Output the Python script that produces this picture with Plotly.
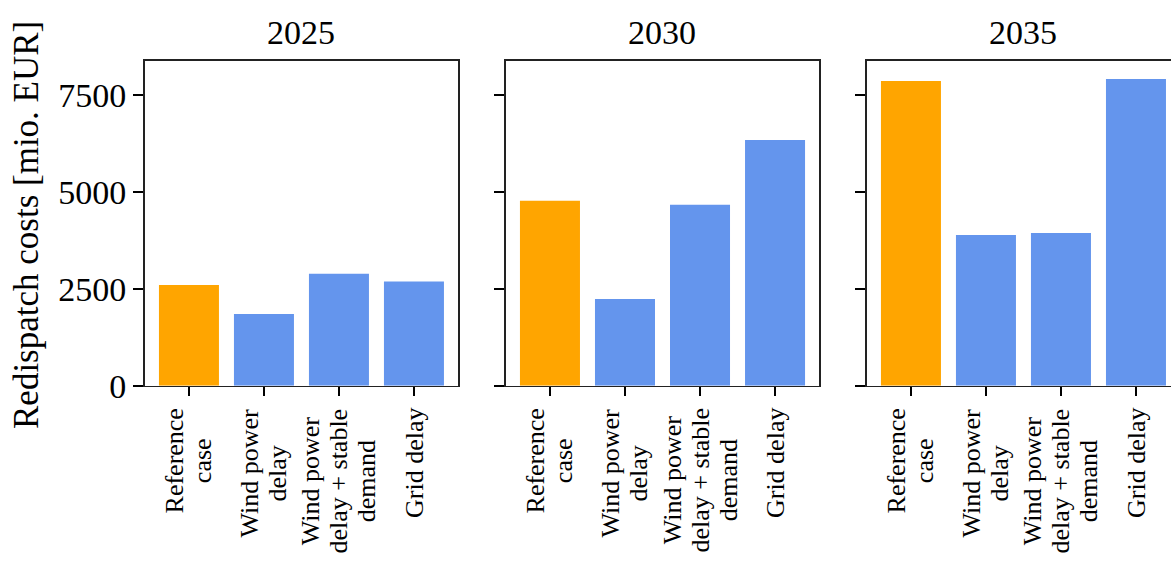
import plotly.graph_objects as go

years = ["2025", "2030", "2035"]
categories = ["Reference case", "Wind power delay",
              "Wind power delay + stable demand", "Grid delay"]
tick_labels = ["Reference<br>case", "Wind power<br>delay",
               "Wind power<br>delay + stable<br>demand", "Grid delay"]
values_2025 = [2600, 1850, 2890, 2690]
values_2030 = [4778, 2239, 4675, 6346]
values_2035 = [7869, 3892, 3944, 7921]
bar_colors = ["#FFA500", "#6495ED", "#6495ED", "#6495ED"]

all_values = [values_2025, values_2030, values_2035]

FONT = "Liberation Serif"
W, H = 1171, 565

x_domains = [[144.7 / W, 458.2 / W], [505.7 / W, 819.3 / W], [866.7 / W, 1.0]]
x_ranges = [[-0.59, 3.59], [-0.59, 3.59], [-0.59, 3.467]]
y_domain = [1 - 385.7 / H, 1 - 60.7 / H]
y_range = [0, 8393]

LAB_SIZE = 26
LINE_PX = 28


def styled(label):
    parts = label.split("<br>")
    return "<br>".join(
        "<span style='font-size:%dpx'>%s</span>" % (LAB_SIZE, p) for p in parts)


fig = go.Figure()
annotations = []
for k, (yr, vals) in enumerate(zip(years, all_values)):
    sfx = "" if k == 0 else str(k + 1)
    fig.add_trace(go.Bar(
        x=list(range(len(categories))), y=vals,
        marker=dict(color=bar_colors, line=dict(width=0)),
        xaxis="x" + sfx, yaxis="y" + sfx,
        hovertext=categories, showlegend=False,
    ))
    fig.update_layout(**{
        "xaxis" + sfx: dict(
            domain=x_domains[k], range=x_ranges[k], anchor="y" + sfx,
            tickvals=[0, 1, 2, 3], showticklabels=False, automargin=False,
            ticks="outside", ticklen=9, tickwidth=1.8, tickcolor="#000",
            showline=True, linecolor="#222", linewidth=1.6, mirror=True,
            showgrid=False, zeroline=False,
        ),
        "yaxis" + sfx: dict(
            domain=y_domain, range=y_range, anchor="x" + sfx, automargin=False,
            tickvals=[0, 2500, 5000, 7500], showticklabels=(k == 0),
            ticks="outside", ticklen=10, tickwidth=1.8, tickcolor="#000",
            showline=True, linecolor="#222", linewidth=1.6,
            mirror=(k < 2), showgrid=False, zeroline=False,
            tickfont=dict(family=FONT, size=34, color="#000"),
        ),
    })
    xc = (x_domains[k][0] + (x_domains[k][0] + 313.5 / W)) / 2
    annotations.append(dict(
        text=yr, x=xc, y=1 - 33 / H, xref="paper", yref="paper",
        xanchor="center", yanchor="middle", showarrow=False,
        font=dict(family=FONT, size=34, color="#000"),
    ))
    for i, lab in enumerate(tick_labels):
        annotations.append(dict(
            text=styled(lab), x=i, xref="x" + sfx, y=1 - 406 / H, yref="paper",
            xanchor="center", yanchor="top", textangle=-90, align="center",
            showarrow=False,
            font=dict(family=FONT, size=LINE_PX / 1.3, color="#000"),
        ))

annotations.append(dict(
    text="Redispatch costs [mio. EUR]", x=27 / W, y=1 - 225 / H,
    xref="paper", yref="paper", xanchor="center", yanchor="middle",
    textangle=-90, showarrow=False,
    font=dict(family=FONT, size=35, color="#000"),
))

fig.update_layout(
    width=W, height=H,
    margin=dict(l=0, r=0, t=0, b=0, autoexpand=False),
    paper_bgcolor="white", plot_bgcolor="white",
    bargap=0.2,
    annotations=annotations,
    font=dict(family=FONT, color="#000"),
)

fig.write_html(
    "out.html",
    config={"displayModeBar": False, "staticPlot": True},
    post_script=(
        "document.documentElement.style.overflow='hidden';"
        "document.body.style.margin='0';"
        "document.body.style.overflow='hidden';"
        "var d=document.getElementById('{plot_id}');"
        "d.style.position='fixed';d.style.top='0px';d.style.left='0px';"
    ),
)
